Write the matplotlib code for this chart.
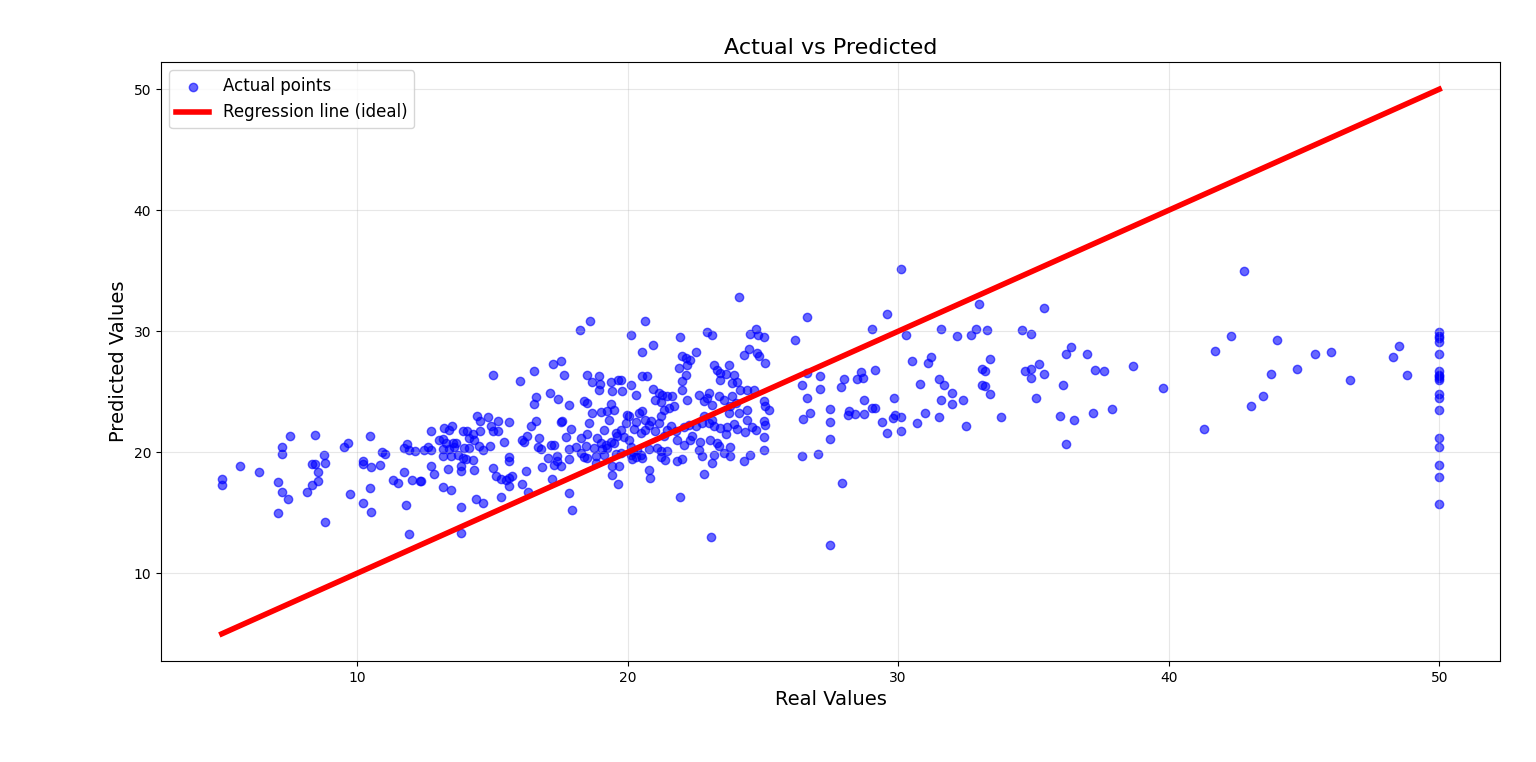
import matplotlib
matplotlib.use("Agg")
import matplotlib.pyplot as plt
import numpy as np

# Real (actual) values and predicted values
real_left = [5.02, 5.02, 5.66, 6.36, 7.06, 7.06, 7.24, 7.43, 7.24, 7.24, 7.53, 8.43, 8.76, 8.83,
             8.34, 8.43, 8.54, 8.54, 8.34, 8.13, 8.83, 9.53, 9.66, 9.75, 10.22, 10.22, 10.46,
             10.46, 10.53, 10.84, 10.23, 10.53, 10.93, 11.03, 11.75, 11.33, 11.53, 12.03, 12.32,
             11.82, 11.93, 11.72, 11.83, 11.93, 12.15]
pred_left = [17.83, 17.28, 18.88, 18.38, 17.56, 15.00, 16.73, 16.10, 20.47, 19.89, 21.38, 21.46, 19.81, 19.12,
             19.04, 19.04, 18.33, 17.64, 17.31, 16.73, 14.26, 20.44, 20.77, 16.57, 19.32, 19.04, 21.38,
             17.06, 18.77, 18.99, 15.85, 15.08, 20.00, 19.86, 18.38, 17.67, 17.48, 17.75, 17.59,
             15.61, 13.27, 20.36, 20.69, 20.17, 20.14]

real_mid1 = [15.02, 16.54, 17.25, 16.03, 17.13, 16.62, 16.54, 17.43, 16.62, 16.42, 17.53, 14.43, 14.55,
             14.85, 15.22, 14.94, 15.01, 15.22, 15.62, 14.55, 14.27, 14.08, 13.90, 14.15, 14.33, 13.49,
             13.41, 13.22, 12.73, 13.04, 13.16, 13.28, 13.53, 12.61, 12.73, 12.48, 13.16, 13.41, 13.57,
             13.65, 13.94, 14.15, 14.51, 14.64, 14.92, 15.44, 13.16, 13.47, 13.72, 13.90, 14.02, 14.27,
             12.73, 12.85, 13.35, 13.84, 13.84, 14.33, 12.36, 13.16, 13.47, 13.84, 14.39, 14.64, 13.84,
             15.01, 15.13, 15.31, 15.50, 15.62, 15.74, 15.62, 15.62, 15.62, 15.31, 16.11, 16.18, 16.27,
             16.73, 16.69, 16.79, 17.16, 17.26, 17.04, 16.85, 17.38, 17.40, 17.28, 17.53, 16.25, 16.11,
             16.30, 17.22, 17.55]
pred_mid1 = [26.41, 26.71, 27.31, 25.88, 24.89, 24.54, 23.99, 24.40, 22.61, 22.20, 22.53, 23.03, 22.56,
             22.92, 22.56, 22.15, 21.73, 21.73, 22.53, 21.79, 21.54, 21.79, 21.73, 21.18, 21.05, 22.15,
             21.87, 22.01, 21.73, 21.05, 21.10, 20.77, 20.77, 20.44, 20.22, 20.22, 20.28, 20.28, 20.44,
             20.77, 20.36, 20.36, 20.55, 20.17, 20.55, 20.83, 19.67, 19.67, 19.81, 19.53, 19.45, 19.34,
             18.85, 18.24, 18.63, 18.85, 18.44, 18.52, 17.61, 17.14, 16.92, 15.47, 16.10, 15.83, 13.30,
             18.71, 18.08, 17.80, 17.75, 17.89, 18.08, 17.20, 19.62, 19.26, 16.32, 21.05, 20.83, 21.32,
             21.18, 20.44, 20.28, 20.63, 20.61, 19.51, 18.79, 19.67, 19.26, 18.99, 18.90, 18.44, 17.42,
             16.70, 17.80, 27.56]

real_mid2 = [24.11, 18.61, 18.24, 20.64, 20.11, 22.92, 23.13, 21.93, 24.52, 24.73, 24.83, 25.03, 20.93,
             20.52, 21.93, 17.83, 17.96, 23.10,
             17.63, 18.51, 18.94, 18.70, 18.98, 18.94, 19.40, 19.64, 19.74, 19.43, 19.80, 20.11, 20.30,
             20.54, 20.70, 20.95, 21.16, 21.28, 21.03, 21.22, 21.46, 21.53, 21.34, 17.84, 18.39, 18.51,
             19.37, 19.50, 19.00, 18.70, 19.25, 19.99, 20.05, 20.42, 20.54, 20.66, 20.79, 20.30, 19.93,
             20.23, 19.74, 19.56, 19.62, 19.87, 20.05, 20.48, 20.66, 20.85, 21.03, 21.16, 21.22, 21.46,
             21.34, 17.59, 17.90, 17.71, 18.27, 18.57, 18.51, 19.13, 19.31, 18.88, 19.00, 19.19, 19.37,
             19.50, 19.25, 19.07, 18.76, 18.45, 18.08, 17.84, 18.27, 18.51, 18.82, 19.13, 19.56, 19.74,
             20.11, 20.21, 20.36, 20.48, 20.30, 20.17, 20.54, 20.79, 21.10, 21.22, 21.44, 21.40, 21.22,
             17.84, 18.39, 18.82, 19.43, 19.68, 19.43, 20.79, 20.82, 20.11, 19.64]
pred_mid2 = [32.81, 30.83, 30.09, 30.83, 29.70, 29.95, 29.70, 29.51, 29.79, 30.17, 29.70, 29.56, 28.88,
             28.30, 16.32, 16.65, 15.19, 12.97,
             26.41, 26.41, 26.32, 25.77, 25.66, 25.11, 25.77, 25.94, 25.94, 25.03, 25.03, 25.58, 24.76,
             26.32, 26.32, 25.22, 24.89, 24.76, 24.29, 24.12, 24.62, 23.66, 23.52, 23.93, 24.21, 24.07,
             24.01, 23.52, 23.30, 23.24, 23.38, 23.11, 22.97, 23.24, 23.38, 22.70, 22.28, 22.48, 22.42,
             21.93, 21.87, 21.60, 21.38, 21.27, 21.05, 21.60, 21.87, 22.56, 21.73, 22.42, 22.97, 21.87,
             21.32, 22.56, 21.93, 21.27, 21.18, 22.42, 21.54, 21.87, 22.70, 21.18, 20.77, 20.63, 20.83,
             20.77, 20.36, 20.28, 20.36, 20.55, 20.44, 20.28, 19.95, 19.54, 19.67, 19.81, 19.89, 19.95,
             20.44, 20.00, 20.17, 19.81, 19.62, 19.45, 19.53, 20.28, 20.36, 20.09, 20.09, 19.40, 19.62,
             19.45, 19.62, 19.12, 18.90, 18.85, 18.16, 18.52, 17.89, 19.81, 17.34]

real_mid3 = [22.02, 22.14, 22.30, 22.20, 21.89, 22.51, 23.19, 23.31, 23.43, 23.62, 23.74, 23.92, 23.43,
             23.86, 24.05, 24.17, 24.42, 24.29, 24.48, 24.79, 24.85, 25.06, 22.02, 22.14, 22.02, 21.65,
             21.71, 22.20, 22.63, 22.82, 22.94, 23.00, 23.12, 23.37, 23.55, 23.86, 23.80, 23.99, 24.11,
             23.74, 24.66, 25.03, 24.42, 25.22, 25.09, 21.59, 21.77, 22.08, 22.26, 22.51, 22.76, 22.82,
             23.00, 23.12, 23.19, 23.43, 23.68, 23.92, 24.05, 24.35, 24.42, 24.60, 24.76, 25.03, 25.09,
             21.83, 22.08, 22.32, 22.39, 22.69, 22.63, 22.76, 23.06, 23.31, 23.37, 23.62, 23.19, 23.12,
             23.55, 23.80, 23.80, 24.29, 24.51, 25.03, 25.03, 21.83, 22.02, 22.82]
pred_mid3 = [27.92, 27.78, 27.64, 27.23, 26.95, 28.25, 27.23, 26.82, 26.54, 26.49, 27.23, 26.41, 25.99,
             25.72, 25.77, 25.17, 25.17, 28.05, 28.52, 28.19, 27.92, 27.37, 25.86, 26.41, 25.17, 24.62,
             23.79, 24.34, 24.76, 24.21, 24.48, 24.89, 23.93, 24.62, 24.34, 24.62, 23.80, 24.07, 23.25,
             23.25, 25.17, 24.21, 23.52, 23.47, 23.80, 22.15, 21.73, 22.09, 22.28, 22.20, 22.42, 23.02,
             22.42, 22.70, 22.15, 22.01, 22.09, 22.37, 21.93, 21.65, 22.64, 22.09, 21.87, 22.56, 22.28,
             21.05, 20.63, 21.05, 21.32, 20.83, 20.22, 19.67, 21.05, 20.77, 20.50, 21.51, 19.81, 19.12,
             19.95, 20.44, 19.73, 19.26, 19.81, 21.27, 20.17, 19.26, 19.45, 18.24]

real_right1 = [30.12, 26.62, 29.59, 29.02, 26.20, 30.30, 31.59, 32.18, 32.69, 32.89, 33.30, 32.99, 34.59,
               34.92, 35.39, 36.38, 36.20, 36.97, 37.27, 37.20, 36.09, 35.98, 36.49, 36.20, 33.39, 33.11,
               33.22, 33.10, 33.22, 33.39, 33.81, 35.22, 34.92, 34.69, 34.92, 35.39, 35.09, 30.50, 31.11,
               31.20, 30.81, 31.52, 31.71, 32.00, 31.60, 32.00, 32.41, 31.01, 31.52, 30.71, 32.52, 29.83,
               29.89, 29.82, 30.12, 30.12, 29.59, 29.42, 29.13, 28.61, 28.71, 28.47, 28.01, 27.90, 27.10,
               27.10, 26.62, 26.43, 26.62, 26.73, 26.50, 28.72, 29.02, 29.13, 28.72, 28.20, 28.42, 28.13,
               27.49, 27.49, 27.49, 26.43, 27.02, 27.91, 27.49]
pred_right1 = [35.12, 31.16, 31.43, 30.17, 29.29, 29.70, 30.17, 29.62, 29.68, 30.17, 30.12, 32.26, 30.12,
               29.79, 31.90, 28.71, 28.11, 28.11, 26.82, 23.25, 25.58, 23.02, 22.70, 20.72, 27.70, 26.90,
               26.74, 25.58, 25.44, 24.84, 22.92, 27.29, 26.90, 26.74, 26.13, 26.46, 24.51, 27.56, 27.37,
               27.86, 25.66, 26.08, 25.58, 24.89, 24.32, 24.01, 24.32, 23.27, 22.89, 22.45, 22.20, 24.51,
               23.08, 22.86, 22.89, 21.79, 21.62, 22.53, 26.82, 26.65, 26.13, 26.05, 26.08, 25.42, 26.32,
               25.25, 26.55, 25.58, 24.51, 23.27, 22.75, 24.32, 23.66, 23.66, 23.19, 23.41, 23.19, 23.08,
               23.60, 22.53, 21.10, 19.70, 19.89, 17.50, 12.31]

real_right2 = [42.77, 37.61, 38.69, 37.91, 39.79, 41.30, 41.71, 42.30, 43.06, 43.48, 43.78, 44.00, 44.76,
               45.40, 45.99, 46.69, 48.28, 48.50, 48.80,
               50.0, 50.0, 50.0, 50.0, 50.0, 50.0, 50.0, 50.0, 50.0, 50.0, 50.0, 50.0, 50.0, 50.0, 50.0,
               50.0, 50.0, 50.0]
pred_right2 = [34.95, 26.70, 27.15, 23.58, 25.33, 21.93, 28.38, 29.59, 23.85, 24.67, 26.46, 29.26, 26.87,
               28.14, 28.28, 25.97, 27.86, 28.77, 26.38,
               29.98, 29.62, 29.43, 29.15, 28.11, 26.68, 26.41, 26.27, 26.13, 25.99, 24.84, 24.45, 23.50,
               21.19, 20.45, 18.96, 17.97, 15.75]

real_values = real_left + real_mid1 + real_mid2 + real_mid3 + real_right1 + real_right2
pred_values = pred_left + pred_mid1 + pred_mid2 + pred_mid3 + pred_right1 + pred_right2

ideal_line = [5.0, 50.0]

fig = plt.figure(figsize=(15.36, 7.62), dpi=100)
ax = fig.add_axes([0.1048, 0.1325, 0.8718, 0.7861])

ax.scatter(real_values, pred_values, color="blue", alpha=0.6, s=36, label="Actual points")
ax.plot(ideal_line, ideal_line, color="red", linewidth=4, label="Regression line (ideal)")

ax.set_xlim(2.75, 52.25)
ax.set_ylim(2.75, 52.25)
ax.set_xticks([10, 20, 30, 40, 50])
ax.set_yticks([10, 20, 30, 40, 50])
ax.grid(True, alpha=0.3)

ax.set_title("Actual vs Predicted", fontsize=16)
ax.set_xlabel("Real Values", fontsize=14)
ax.set_ylabel("Predicted Values", fontsize=14)
ax.legend(loc="upper left", fontsize=12)

fig.savefig("out.png", dpi=100)
